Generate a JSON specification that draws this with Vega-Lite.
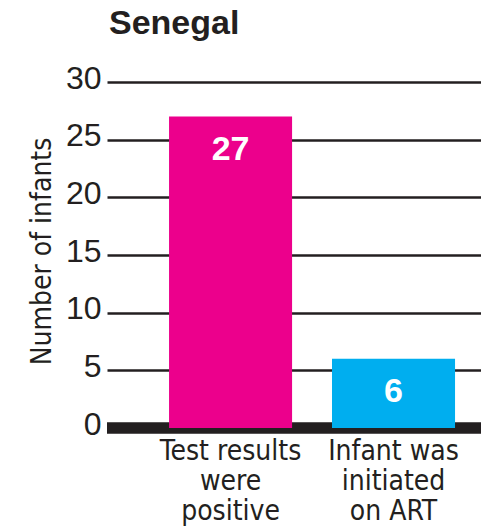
{
  "$schema": "https://vega.github.io/schema/vega-lite/v6.json",
  "width": 374,
  "height": 346,
  "autosize": "none",
  "padding": {"left": 107, "top": 82, "right": 0, "bottom": 101},
  "background": "white",
  "title": {
    "text": "Senegal",
    "anchor": "start",
    "frame": "group",
    "font": "Liberation Sans",
    "fontSize": 34,
    "fontWeight": "bold",
    "color": "#231F20",
    "baseline": "alphabetic",
    "offset": -6,
    "dx": 2
  },
  "config": {"view": {"stroke": null}},
  "data": {
    "values": [
      {"category": "Test results were positive", "infants": 27},
      {"category": "Infant was initiated on ART", "infants": 6}
    ]
  },
  "layer": [
    {
      "mark": {"type": "rule", "color": "#231F20", "strokeWidth": 11},
      "encoding": {
        "y": {"datum": 0, "type": "quantitative", "scale": {"domain": [0, 30], "nice": false}}
      }
    },
    {
      "mark": {"type": "bar"},
      "encoding": {
        "x": {
          "field": "category",
          "type": "nominal",
          "sort": null,
          "scale": {"paddingInner": 0.245, "paddingOuter": 0.27, "align": 0.705},
          "axis": {
            "title": null,
            "orient": "bottom",
            "domain": false,
            "ticks": false,
            "labelAngle": 0,
            "labelFont": "DejaVu Sans Condensed, Liberation Sans, sans-serif",
            "labelFontSize": 28,
            "labelLineHeight": 30,
            "labelBaseline": "top",
            "labelPadding": 9,
            "labelColor": "#231F20",
            "labelExpr": "datum.value == 'Test results were positive' ? ['Test results', 'were', 'positive'] : ['Infant was', 'initiated', 'on ART']"
          }
        },
        "y": {
          "field": "infants",
          "type": "quantitative",
          "scale": {"domain": [0, 30], "nice": false},
          "axis": {
            "values": [0, 5, 10, 15, 20, 25, 30],
            "grid": true,
            "gridColor": "#231F20",
            "gridWidth": 2.5,
            "gridOpacity": 1,
            "domain": false,
            "ticks": false,
            "labelFont": "Liberation Sans",
            "labelFontSize": 32,
            "labelColor": "#231F20",
            "labelPadding": 6,
            "labelOffset": -4,
            "title": "Number of infants",
            "titleFont": "DejaVu Sans Condensed, Liberation Sans, sans-serif",
            "titleFontSize": 28,
            "titleFontWeight": "normal",
            "titleColor": "#231F20",
            "titleAngle": -90,
            "titleX": -57,
            "titleY": 169,
            "titleAlign": "center",
            "titleBaseline": "alphabetic"
          }
        },
        "color": {
          "field": "category",
          "type": "nominal",
          "scale": {
            "domain": ["Test results were positive", "Infant was initiated on ART"],
            "range": ["#EC008C", "#00AEEF"]
          },
          "legend": null
        }
      }
    },
    {
      "mark": {
        "type": "text",
        "baseline": "middle",
        "dy": 33,
        "color": "white",
        "font": "Liberation Sans",
        "fontSize": 34,
        "fontWeight": "bold"
      },
      "encoding": {
        "x": {"field": "category", "type": "nominal", "sort": null},
        "y": {"field": "infants", "type": "quantitative"},
        "text": {"field": "infants", "type": "quantitative"}
      }
    }
  ]
}
